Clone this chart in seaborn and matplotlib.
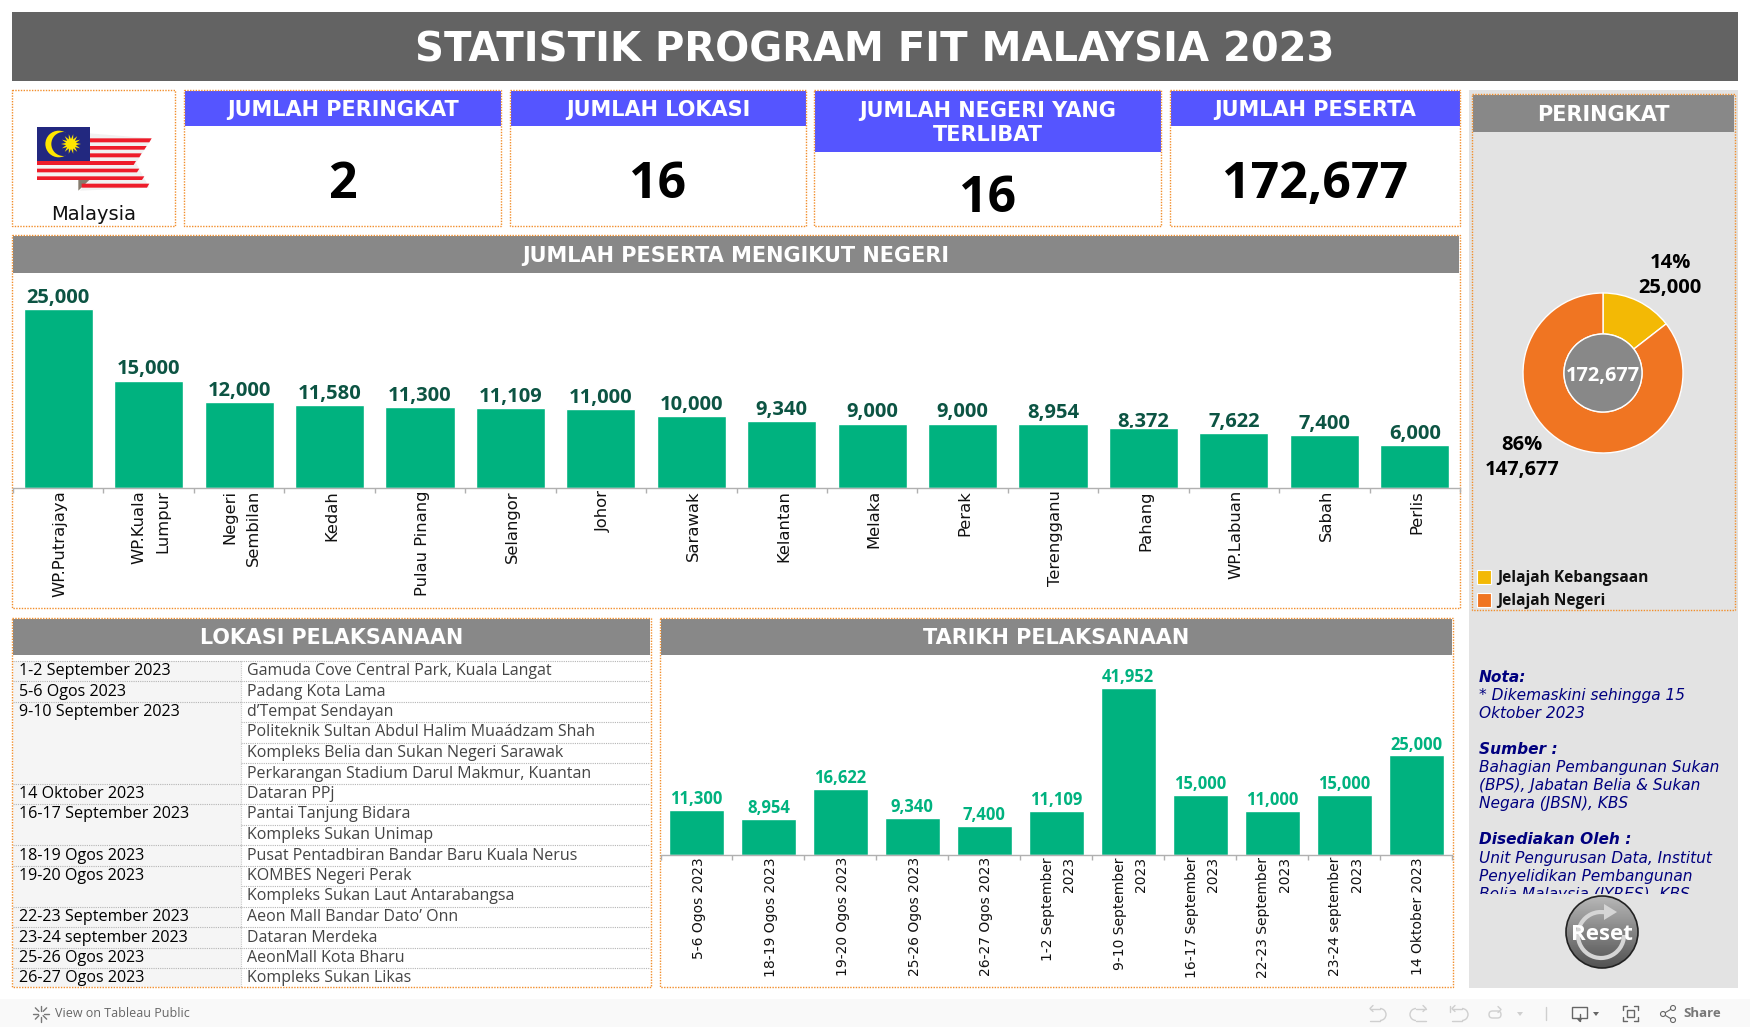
"""Statistik Program Fit Malaysia 2023 dashboard"""

import numpy as np
import pandas as pd
import seaborn as sns
import matplotlib.pyplot as plt
from matplotlib.patches import Rectangle, Circle, Polygon, Arc, FancyBboxPatch
from matplotlib.transforms import ScaledTranslation

# Chart data
state_names = ["WP.Putrajaya", "WP.Kuala\nLumpur", "Negeri\nSembilan", "Kedah", "Pulau Pinang",
               "Selangor", "Johor", "Sarawak", "Kelantan", "Melaka", "Perak", "Terengganu",
               "Pahang", "WP.Labuan", "Sabah", "Perlis"]
state_values = [25000, 15000, 12000, 11580, 11300, 11109, 11000, 10000, 9340, 9000, 9000,
                8954, 8372, 7622, 7400, 6000]

date_names = ["5-6 Ogos 2023", "18-19 Ogos 2023", "19-20 Ogos 2023", "25-26 Ogos 2023",
              "26-27 Ogos 2023", "1-2 September\n2023", "9-10 September\n2023",
              "16-17 September\n2023", "22-23 September\n2023", "23-24 september\n2023",
              "14 Oktober 2023"]
date_values = [11300, 8954, 16622, 9340, 7400, 11109, 41952, 15000, 11000, 15000, 25000]

level_names = ["Jelajah Kebangsaan", "Jelajah Negeri"]
level_values = [25000, 147677]
level_labels = ["14%\n25,000", "86%\n147,677"]

table_dates = ["1-2 September 2023", "5-6 Ogos 2023", "9-10 September 2023", "", "", "",
               "14 Oktober 2023", "16-17 September 2023", "", "18-19 Ogos 2023",
               "19-20 Ogos 2023", "", "22-23 September 2023", "23-24 september 2023",
               "25-26 Ogos 2023", "26-27 Ogos 2023"]
table_places = ["Gamuda Cove Central Park, Kuala Langat", "Padang Kota Lama", "d\u2019Tempat Sendayan",
                "Politeknik Sultan Abdul Halim Mua\u00e1dzam Shah", "Kompleks Belia dan Sukan Negeri Sarawak",
                "Perkarangan Stadium Darul Makmur, Kuantan", "Dataran PPj", "Pantai Tanjung Bidara",
                "Kompleks Sukan Unimap", "Pusat Pentadbiran Bandar Baru Kuala Nerus",
                "KOMBES Negeri Perak", "Kompleks Sukan Laut Antarabangsa", "Aeon Mall Bandar Dato\u2019 Onn",
                "Dataran Merdeka", "AeonMall Kota Bharu", "Kompleks Sukan Likas"]

kpi_titles = ["JUMLAH PERINGKAT", "JUMLAH LOKASI", "JUMLAH NEGERI YANG\nTERLIBAT", "JUMLAH PESERTA"]
kpi_values = ["2", "16", "16", "172,677"]

# Colours
GREEN = "#00b27f"
DARK_GREEN = "#0c5443"
GREY = "#888888"
BLUE = "#5555ff"
ORANGE = "#f28e2b"
NAVY = "#00007f"
BOOK = ["Open Sans", "DejaVu Sans"]

W, H = 1750, 1027

sns.set_theme(style="white")
plt.rcParams["font.family"] = ["DejaVu Sans"]

fig = plt.figure(figsize=(W / 100, H / 100), dpi=100, facecolor="white")

# Pixel-coordinate layer for the dashboard furniture
bg = fig.add_axes([0, 0, 1, 1], zorder=0)
bg.set_xlim(0, W)
bg.set_ylim(H, 0)
bg.axis("off")


def box(x0, y0, x1, y1, **kw):
    r = Rectangle((x0, y0), x1 - x0, y1 - y0, **kw)
    bg.add_patch(r)
    return r


def dotted(x0, y0, x1, y1):
    box(x0, y0, x1, y1, fill=False, ec=ORANGE, lw=1, ls=(0, (1, 1)), zorder=6)


def band(x0, y0, x1, y1, text, color=GREY, size=15):
    box(x0, y0, x1, y1, fc=color, ec="none", zorder=2)
    bg.text((x0 + x1) / 2, (y0 + y1) / 2 + 1.5, text, color="white", fontsize=size, fontweight="bold",
            ha="center", va="center", zorder=3, linespacing=1.25)


def chart_axes(x0, y0, x1, y1):
    ax = fig.add_axes([x0 / W, 1 - y1 / H, (x1 - x0) / W, (y1 - y0) / H], zorder=2)
    ax.patch.set_alpha(0)
    return ax


def draw_bars(ax, names, values, ymax, label_color, label_size, tick_size, label_gap):
    df = pd.DataFrame({"name": names, "value": values})
    sns.barplot(data=df, x="name", y="value", color=GREEN, saturation=1, width=0.765, ax=ax, zorder=2)
    ax.set_ylim(0, ymax)
    ax.set_xlim(-0.5, len(names) - 0.5)
    ax.set_xlabel("")
    ax.set_ylabel("")
    ax.set_yticks([])
    sns.despine(ax=ax, left=True, top=True, right=True)
    ax.spines["bottom"].set_color("#b0b0b0")
    ax.spines["bottom"].set_linewidth(1)
    ax.set_xticks(range(len(names)))
    ax.set_xticklabels(names, rotation=90, fontsize=tick_size, color="#111111",
                       va="top", ha="center", multialignment="right", linespacing=1.7)
    ax.tick_params(axis="x", which="major", bottom=False, length=0, pad=1.5)
    ax.set_xticks(np.arange(len(names) + 1) - 0.5, minor=True)
    ax.tick_params(axis="x", which="minor", bottom=True, length=3.5, color="#b0b0b0", width=1)
    # tick labels sit a touch right of the bar centres
    nudge = ScaledTranslation(2.2 / 100, 0, fig.dpi_scale_trans)
    for lab in ax.get_xticklabels():
        lab.set_transform(lab.get_transform() + nudge)
    for i, v in enumerate(values):
        ax.annotate(f"{v:,}", (i, v), xytext=(0, label_gap), textcoords="offset points", ha="center", va="bottom",
                    color=label_color, fontsize=label_size, fontweight="bold", family=BOOK, zorder=5)


# Title
box(12, 12, 1738, 81, fc="#636363", ec="none")
bg.text(875, 50.5, "STATISTIK PROGRAM FIT MALAYSIA 2023", color="white", fontsize=28.9, fontweight="bold",
        ha="center", va="center")

# Flag card
dotted(12, 90, 175, 226)
fx = lambda z: z / 3
fy = lambda z: 80 + z / 3
stripes = [(175, 187, 455), (198, 209, 440), (220, 232, 425), (243, 255, 408),
           (266, 277, 418), (289, 300, 433), (311, 323, 448)]
box(fx(111), fy(243), fx(270), fy(300), fc="#f4f4f4", ec="none", zorder=2)
bg.add_patch(Polygon([(fx(235), fy(300)), (fx(268), fy(300)), (fx(235), fy(332))], fc="#857b6d", ec="none", zorder=2))
bg.add_patch(Polygon([(fx(268), fy(160)), (fx(455), fy(175)), (fx(408), fy(249)), (fx(448), fy(323)),
                      (fx(240), fy(332)), (fx(268), fy(300))], fc="#f1f1f1", ec="none", zorder=1))
for y0, y1, xr in stripes:
    xl = 111 if y0 > 240 else 268
    if y0 > 305:
        xl = 245
    bg.add_patch(Polygon([(fx(xl), fy(y0)), (fx(xr), fy(y0)), (fx(xr - 7), fy(y1)), (fx(xl), fy(y1))],
                         fc="#ee1c2a", ec="none", zorder=3))
box(fx(111), fy(141), fx(270), fy(243), fc="#22287f", ec="none", zorder=4)
bg.add_patch(Circle((fx(176), fy(192)), 13.3, fc="#ffe600", ec="none", zorder=5))
bg.add_patch(Circle((fx(190), fy(192)), 12, fc="#22287f", ec="none", zorder=5))
ang = np.linspace(0, 2 * np.pi, 29)[:-1]
rad = np.where(np.arange(28) % 2 == 0, 10, 5)
bg.add_patch(Polygon(np.c_[fx(213) + rad * np.cos(ang), fy(192) + rad * np.sin(ang)], fc="#ffe600", ec="none", zorder=5))
bg.text(94, 214, "Malaysia", fontsize=14, color="#111111", ha="center", va="center")

# KPI cards
kpi_boxes = [(184, 501), (510, 806), (814, 1161), (1170, 1460)]
for (x0, x1), title, value in zip(kpi_boxes, kpi_titles, kpi_values):
    bottom = 152 if "\n" in title else 126
    dotted(x0, 90, x1, 226)
    band(x0 + 0.5, 90.5, x1, bottom, title, color=BLUE, size=15)
    bg.text((x0 + x1) / 2, 199 if "\n" in title else 185.5, value, color="black", fontsize=36, fontweight="bold",
            family=BOOK, ha="center", va="center")

# State bars
dotted(12, 235, 1460, 608)
band(13, 236, 1459, 273, "JUMLAH PESERTA MENGIKUT NEGERI")
ax1 = chart_axes(13, 273, 1460, 488)
draw_bars(ax1, state_names, state_values, 30028, DARK_GREEN, 14.5, 11.75, 1)
# Pahang's label sits low and slides behind its bar
pahang = ax1.texts[state_names.index("Pahang")]
pahang.set_position((0, -3))
pahang.set_zorder(0.5)

# Location table
dotted(12, 618, 651, 987)
band(13, 619, 650, 655, "LOKASI PELAKSANAAN", size=14.9)
y_edges = [660.75 + i * 20.5 for i in range(17)]
box(13, y_edges[0], 241, 987, fc="#f5f5f5", ec="none", zorder=1)
for i, (d, p) in enumerate(zip(table_dates, table_places)):
    ymid = (y_edges[i] + y_edges[i + 1]) / 2
    if d:
        bg.text(19, ymid, d, fontsize=11.6, family=BOOK, color="black", va="center", zorder=3)
        bg.plot([13, 241], [y_edges[i]] * 2, color="#b5b5b5", lw=0.8, ls=(0, (1, 1)), zorder=2)
    bg.text(247, ymid, p, fontsize=11.5, family=BOOK, color="#444444", va="center", zorder=3)
    bg.plot([241, 650], [y_edges[i]] * 2, color="#b5b5b5", lw=0.8, ls=(0, (1, 1)), zorder=2)
bg.plot([241, 241], [y_edges[0], 987], color="#c8c8c8", lw=0.8, ls=(0, (1, 1)), zorder=2)

# Date bars
dotted(660, 618, 1453, 987)
band(661, 619, 1452, 655, "TARIKH PELAKSANAAN", size=15)
ax2 = chart_axes(660.5, 655, 1452, 855)
draw_bars(ax2, date_names, date_values, 50240, GREEN, 12, 10, 1.4)

# Side panel
box(1469, 90, 1738, 988, fc="#e3e3e3", ec="none", zorder=0)
dotted(1472, 94, 1735, 610)
band(1473, 95, 1734, 132, "PERINGKAT")
ax3 = chart_axes(1603 - 110, 373 - 110, 1603 + 110, 373 + 110)
ax3.pie(level_values, colors=["#f3b905", "#f07522"], startangle=90, counterclock=False, radius=80,
        wedgeprops=dict(width=41, ec="white", lw=1))
ax3.add_patch(Circle((0, 0), 39, fc=GREY, ec="white", lw=1))
ax3.set_xlim(-110, 110)
ax3.set_ylim(-110, 110)
ax3.axis("off")
ax3.text(0, -3, "172,677", color="white", fontsize=14.4, fontweight="bold", family=BOOK, ha="center", va="center")
bg.text(1670, 275.5, level_labels[0], color="black", fontsize=14.5, fontweight="bold", family=BOOK, ha="center", va="center",
        linespacing=1.4, zorder=3)
bg.text(1522, 457.5, level_labels[1], color="black", fontsize=14.5, fontweight="bold", family=BOOK, ha="center", va="center",
        linespacing=1.4, zorder=3)
for name, color, y in zip(level_names, ["#f3b905", "#f07522"], [577, 600]):
    box(1477, y - 7, 1491, y + 7, fc=color, ec="white", lw=0.8, zorder=2)
    bg.text(1497, y + 1, name, fontsize=11.2, fontweight="bold", family=BOOK, color="#111111", va="center", zorder=3)

# Notes, cut off at the bottom of their container
notes = [("Nota:", "bold"), ("* Dikemaskini sehingga 15", "normal"), ("Oktober 2023", "normal"), ("", "normal"),
         ("Sumber :", "bold"), ("Bahagian Pembangunan Sukan", "normal"), ("(BPS), Jabatan Belia & Sukan", "normal"),
         ("Negara (JBSN), KBS", "normal"), ("", "normal"), ("Disediakan Oleh :", "bold"),
         ("Unit Pengurusan Data, Institut", "normal"), ("Penyelidikan Pembangunan", "normal"),
         ("Belia Malaysia (IYRES), KBS", "normal")]
note_clip = Rectangle((1469, 660), 269, 233.5, transform=bg.transData)
for i, (line, weight) in enumerate(notes):
    t = bg.text(1479, 677.5 + i * 18.05, line, fontsize=11.05, style="italic", fontweight=weight, color=NAVY,
                va="center", zorder=3)
    t.set_clip_path(note_clip)
    t.set_clip_on(True)

# Reset button
cx, cy, cr = 1602, 932, 36
grad = bg.imshow(np.linspace(0.72, 0.32, 100)[:, None], cmap="gray", vmin=0, vmax=1, aspect="auto",
                 extent=(cx - cr, cx + cr, cy + cr, cy - cr), zorder=2)
grad.set_clip_path(Circle((cx, cy), cr, transform=bg.transData))
bg.add_patch(Circle((cx, cy), cr, fill=False, ec="#222222", lw=1.2, zorder=3))
bg.add_patch(Arc((cx - 1, cy + 3), 46, 46, theta1=0, theta2=280, ec="#d5d5d5", lw=3, zorder=3))
bg.add_patch(Polygon([(cx + 2, cy - 28), (cx + 15, cy - 20), (cx + 2, cy - 12)], fc="#d5d5d5", ec="none", zorder=3))
bg.text(cx, cy + 3, "Reset", color="white", fontsize=16, fontweight="bold", family=BOOK, ha="center", va="center", zorder=4)
bg.set_xlim(0, W)
bg.set_ylim(H, 0)

# Tableau toolbar
box(0, 999, W, H, fc="#f9f9f9", ec="none", zorder=0)
bg.text(55, 1013.5, "View on Tableau Public", fontsize=9, color="#666666", family=BOOK, va="center", zorder=3)
for a in np.linspace(0, 2 * np.pi, 8, endpoint=False):
    bg.plot([41 + 3 * np.cos(a), 41 + 8 * np.cos(a)], [1013.5 + 3 * np.sin(a), 1013.5 + 8 * np.sin(a)],
            color="#777777", lw=1, zorder=3)
bg.text(1683, 1013.5, "Share", fontsize=9.5, color="#777777", fontweight="bold", family=BOOK, va="center", zorder=3)

LIGHT = "#cfcfcf"
DARK = "#666666"


def hook(x, direction):
    # undo / redo arrow: direction 1 bulges right, -1 bulges left
    bend = x + 10 * direction
    bg.plot([x, bend], [1008.5, 1008.5], color=LIGHT, lw=1, zorder=3)
    bg.plot([x, bend], [1020.5, 1020.5], color=LIGHT, lw=1, zorder=3)
    t1, t2 = (-90, 90) if direction > 0 else (90, 270)
    bg.add_patch(Arc((bend, 1014.5), 12, 12, theta1=t1, theta2=t2, ec=LIGHT, lw=1, zorder=3))
    bg.plot([x + 3 * direction, x, x + 3 * direction], [1005.5, 1008.5, 1011.5], color=LIGHT, lw=1, zorder=3)


hook(1370, 1)
hook(1426, -1)
hook(1452, 1)
bg.plot([1450, 1450], [1005.5, 1011.5], color=LIGHT, lw=1, zorder=3)
bg.add_patch(FancyBboxPatch((1489, 1011), 12, 7, boxstyle="round,pad=0,rounding_size=3.5", fc="none", ec=LIGHT, lw=1, zorder=3))
bg.plot([1498, 1501, 1498], [1006.5, 1009.5, 1012.5], color=LIGHT, lw=1, zorder=3)
bg.add_patch(Polygon([(1517, 1012), (1523, 1012), (1520, 1016)], fc=LIGHT, ec="none", zorder=3))
bg.plot([1545.5, 1545.5], [1007, 1020], color=LIGHT, lw=1, zorder=3)
box(1572, 1007, 1587, 1018, fill=False, ec=DARK, lw=1, zorder=3)
bg.plot([1579.5, 1579.5], [1014, 1021], color=DARK, lw=1, zorder=3)
bg.add_patch(Polygon([(1577, 1019), (1582, 1019), (1579.5, 1022)], fc=DARK, ec="none", zorder=3))
bg.add_patch(Polygon([(1593, 1012), (1599, 1012), (1596, 1016)], fc=DARK, ec="none", zorder=3))
for xa, xb in [(1623, 1627), (1638, 1634)]:
    for ya, yb in [(1006, 1006), (1021, 1021)]:
        bg.plot([xa, xb], [ya, yb], color=DARK, lw=1, zorder=3)
    bg.plot([xa, xa], [1006, 1010], color=DARK, lw=1, zorder=3)
    bg.plot([xa, xa], [1017, 1021], color=DARK, lw=1, zorder=3)
box(1627, 1010, 1634, 1017, fill=False, ec=DARK, lw=1, zorder=3)
bg.plot([1673, 1663, 1673], [1008, 1014, 1020], color=DARK, lw=0.8, zorder=3)
for nx, ny in [(1663, 1014), (1673, 1008), (1673, 1020)]:
    bg.add_patch(Circle((nx, ny), 2.5, fc="#f9f9f9", ec=DARK, lw=0.8, zorder=4))

fig.savefig("out.png", dpi=100, facecolor="white")
